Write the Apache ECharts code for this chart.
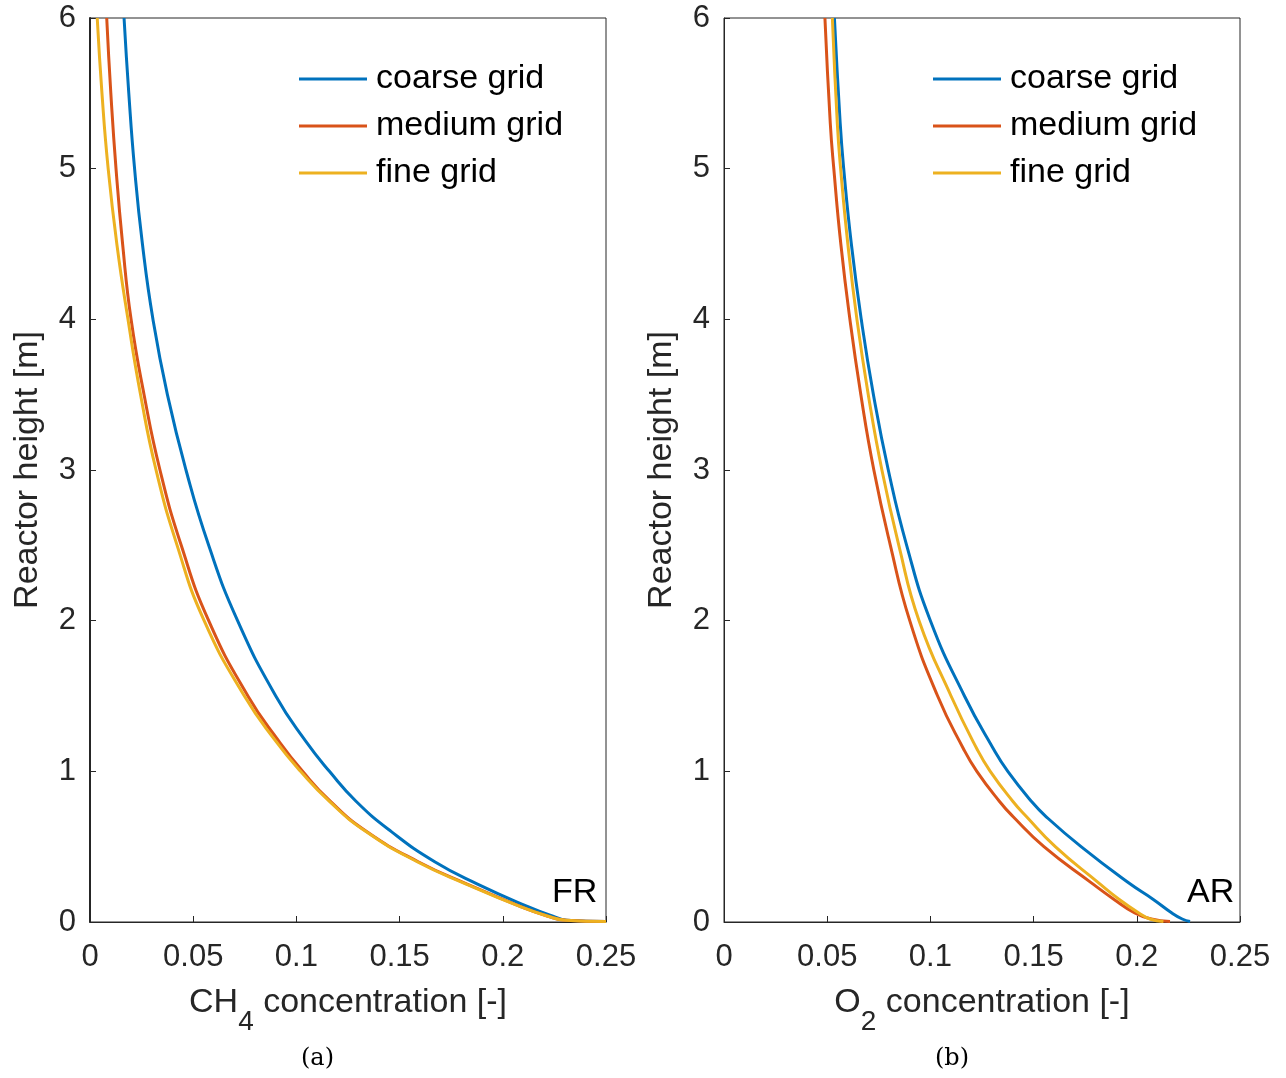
<!DOCTYPE html>
<html>
<head>
<meta charset="utf-8">
<script src="https://cdn.jsdelivr.net/npm/echarts@6/dist/echarts.min.js"></script>
<style>html,body{margin:0;padding:0;background:#fff}#c{width:1286px;height:1078px}</style>
</head>
<body>
<div id="c"></div>
<script>
// ---- data ----
const seriesNames = ['coarse grid', 'medium grid', 'fine grid'];
const xTicks = [0, 0.05, 0.1, 0.15, 0.2, 0.25];
const yTicks = [0, 1, 2, 3, 4, 5, 6];

// FR (CH4) panel: heights [m] and concentrations [-]
const frH = [6, 5.5, 5, 4.5, 4, 3.5, 3, 2.5, 2, 1.5, 1.2, 1, 0.8, 0.6, 0.4, 0.25, 0.1, 0.04, 0.012, 0.003];
const frCoarse = [0.0165, 0.0188, 0.0216, 0.0254, 0.0305, 0.0375, 0.0465, 0.0575, 0.0715, 0.0900, 0.1045, 0.1160, 0.1290, 0.1460, 0.1670, 0.1880, 0.2125, 0.2240, 0.2310, 0.2500];
const frMedium = [0.0081, 0.0101, 0.0126, 0.0158, 0.0199, 0.0262, 0.0339, 0.0442, 0.0575, 0.0765, 0.0915, 0.1030, 0.1165, 0.1340, 0.1590, 0.1830, 0.2090, 0.2215, 0.2305, 0.2500];
const frFine   = [0.0035, 0.0058, 0.0088, 0.0130, 0.0184, 0.0245, 0.0320, 0.0422, 0.0553, 0.0748, 0.0900, 0.1020, 0.1160, 0.1337, 0.1585, 0.1825, 0.2088, 0.2215, 0.2305, 0.2500];

// AR (O2) panel
const arH = [6, 5.3, 5, 4.5, 4, 3.5, 3, 2.5, 2, 1.5, 1.15, 1, 0.8, 0.7, 0.5, 0.26, 0.15, 0.06, 0.02, 0.003];
const arCoarse = [0.0535, 0.0563, 0.0580, 0.0617, 0.0665, 0.0724, 0.0796, 0.0885, 0.1000, 0.1165, 0.1305, 0.1375, 0.1490, 0.1560, 0.1730, 0.1960, 0.2080, 0.2170, 0.2220, 0.2258];
const arMedium = [0.0489, 0.0515, 0.0532, 0.0566, 0.0610, 0.0663, 0.0726, 0.0806, 0.0900, 0.1035, 0.1160, 0.1225, 0.1335, 0.1400, 0.1550, 0.1780, 0.1890, 0.1990, 0.2070, 0.2161];
const arFine   = [0.0525, 0.0549, 0.0565, 0.0600, 0.0644, 0.0699, 0.0765, 0.0847, 0.0945, 0.1100, 0.1225, 0.1290, 0.1400, 0.1465, 0.1605, 0.1815, 0.1915, 0.2010, 0.2064, 0.2129];

// ---- chart ----
const colors = ['#0072BD', '#D95319', '#EDB120'];
const axisColor = '#262626';
const FONT = 'Liberation Sans, Arial, Helvetica, sans-serif';
const pairs = (xs, hs) => xs.map((x, i) => [x, hs[i]]);

function xAxisFor(gi, sub) {
  return {
    gridIndex: gi, type: 'value', min: 0, max: 0.25, interval: 0.05,
    axisLine: { show: true, lineStyle: { color: axisColor, width: 1 } },
    axisTick: { show: true, inside: true, length: 6, lineStyle: { color: axisColor } },
    splitLine: { show: false },
    axisLabel: { color: axisColor, fontSize: 31, fontFamily: FONT, margin: 20,
      formatter: v => String(xTicks.find(t => Math.abs(t - v) < 1e-9) ?? v) },
    name: '{a|' + sub[0] + '}{s|' + sub[1] + '}{a|' + sub[2] + '}',
    nameLocation: 'middle', nameGap: 64,
    nameTextStyle: {
      rich: {
        a: { fontSize: 34, fontFamily: FONT, color: axisColor, verticalAlign: 'top' },
        s: { fontSize: 28, fontFamily: FONT, color: axisColor, verticalAlign: 'top', padding: [22, 0, 0, 0] }
      }
    }
  };
}
function yAxisFor(gi, lw) {
  return {
    gridIndex: gi, type: 'value', min: 0, max: 6, interval: 1,
    axisLine: { show: true, lineStyle: { color: axisColor, width: lw } },
    axisTick: { show: true, inside: true, length: 6, lineStyle: { color: axisColor } },
    splitLine: { show: false },
    axisLabel: { color: axisColor, fontSize: 31, fontFamily: FONT, margin: 14,
      formatter: v => String(yTicks.find(t => t === v) ?? v) },
    name: 'Reactor height [m]', nameLocation: 'middle', nameGap: 45,
    nameTextStyle: { fontSize: 34, fontFamily: FONT, color: axisColor }
  };
}
function line(name, data, xi, ci) {
  return {
    name, type: 'line', xAxisIndex: xi, yAxisIndex: xi, data,
    showSymbol: false, symbol: 'none', smooth: 0.5,
    lineStyle: { color: colors[ci], width: 3 }, itemStyle: { color: colors[ci] },
    clip: true, animation: false
  };
}
function legendFor(left) {
  return {
    orient: 'vertical', left, top: 55, itemWidth: 68, itemHeight: 3, itemGap: 9,
    icon: 'rect', data: seriesNames, selectedMode: false,
    textStyle: { fontSize: 34, fontFamily: FONT, color: '#000', lineHeight: 38, padding: [0, 0, 0, 4] }
  };
}

const chart = echarts.init(document.getElementById('c'), null, { renderer: 'canvas' });
chart.setOption({
  backgroundColor: '#fff',
  animation: false,
  grid: [
    { left: 90, top: 18, width: 516, height: 904, show: true, borderColor: axisColor, borderWidth: 1, backgroundColor: 'transparent' },
    { left: 724, top: 18, width: 516, height: 904, show: true, borderColor: axisColor, borderWidth: 1, backgroundColor: 'transparent' }
  ],
  xAxis: [xAxisFor(0, ['CH', '4', ' concentration [-]']), xAxisFor(1, ['O', '2', ' concentration [-]'])],
  yAxis: [yAxisFor(0, 2), yAxisFor(1, 1)],
  legend: [legendFor(294), legendFor(928)],
  series: [
    line(seriesNames[0], pairs(frCoarse, frH), 0, 0),
    line(seriesNames[1], pairs(frMedium, frH), 0, 1),
    line(seriesNames[2], pairs(frFine, frH), 0, 2),
    line(seriesNames[0], pairs(arCoarse, arH), 1, 0),
    line(seriesNames[1], pairs(arMedium, arH), 1, 1),
    line(seriesNames[2], pairs(arFine, arH), 1, 2)
  ],
  graphic: [
    { type: 'text', left: 552, top: 876, style: { text: 'FR', font: '34px ' + FONT, fill: '#000' } },
    { type: 'text', left: 1187, top: 876, style: { text: 'AR', font: '34px ' + FONT, fill: '#000' } },
    { type: 'text', left: 301, top: 1047, style: { text: '(a)', font: '24px "DejaVu Serif", "Liberation Serif", serif', fill: '#000' } },
    { type: 'text', left: 935, top: 1047, style: { text: '(b)', font: '24px "DejaVu Serif", "Liberation Serif", serif', fill: '#000' } }
  ]
});
</script>
</body>
</html>
